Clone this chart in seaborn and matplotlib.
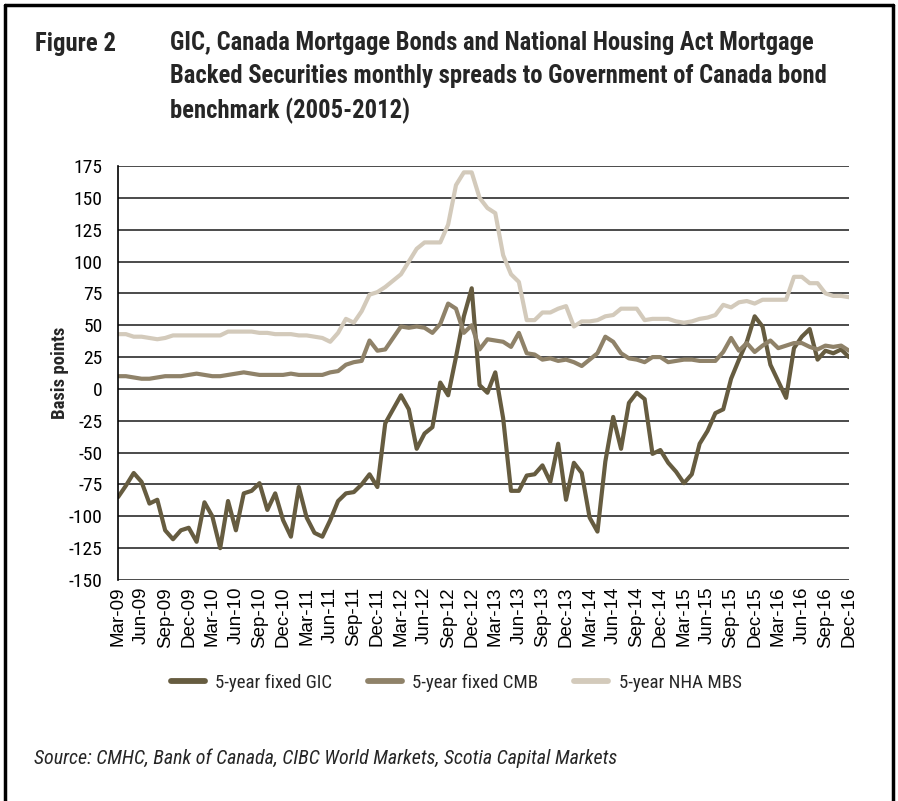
import matplotlib
matplotlib.use("Agg")
import matplotlib.pyplot as plt
from matplotlib.lines import Line2D
from matplotlib import font_manager
import numpy as np
import pandas as pd
import seaborn as sns

# Monthly observations, Mar-2009 to Dec-2016 (basis points)
months = pd.date_range("2009-03-01", periods=94, freq="MS")
month_labels = [m.strftime("%b-%y") for m in months]

gic = [-85, -76, -66, -73, -90, -87, -111, -118, -111, -109,
       -120, -89, -100, -125, -88, -111, -82, -80, -74, -95,
       -82, -103, -116, -77, -101, -113, -116, -103, -88, -82,
       -81, -75, -67, -77, -27, -16, -5, -16, -47, -35,
       -30, 5, -5, 25, 57, 79, 3, -3, 13, -23,
       -80, -80, -68, -67, -60, -73, -43, -87, -58, -66,
       -101, -112, -57, -22, -47, -11, -3, -8, -51, -48,
       -58, -65, -74, -67, -43, -33, -19, -16, 8, 23,
       37, 57, 49, 19, 6, -7, 32, 41, 47, 23,
       30, 28, 31, 25]

cmb = [10, 10, 9, 8, 8, 9, 10, 10, 10, 11,
       12, 11, 10, 10, 11, 12, 13, 12, 11, 11,
       11, 11, 12, 11, 11, 11, 11, 13, 14, 19,
       21, 22, 38, 30, 31, 40, 49, 48, 49, 48,
       44, 51, 67, 63, 44, 50, 31, 39, 38, 37,
       33, 44, 28, 27, 23, 24, 22, 23, 21, 18,
       23, 28, 41, 37, 28, 24, 23, 21, 25, 25,
       21, 22, 23, 23, 22, 22, 22, 29, 40, 30,
       36, 29, 34, 38, 32, 34, 36, 36, 33, 31,
       34, 33, 34, 30]

nha = [43, 43, 41, 41, 40, 39, 40, 42, 42, 42,
       42, 42, 42, 42, 45, 45, 45, 45, 44, 44,
       43, 43, 43, 42, 42, 41, 40, 37, 44, 55,
       52, 61, 74, 76, 80, 85, 90, 100, 110, 115,
       115, 115, 129, 160, 170, 170, 150, 142, 138, 105,
       90, 84, 54, 54, 60, 60, 63, 65, 49, 53,
       53, 54, 57, 58, 63, 63, 63, 54, 55, 55,
       55, 53, 52, 53, 55, 56, 58, 66, 64, 68,
       69, 67, 70, 70, 70, 70, 88, 88, 83, 83,
       75, 73, 73, 72]

series_names = ["5-year fixed GIC", "5-year fixed CMB", "5-year NHA MBS"]
series_colors = ["#665c40", "#8f8269", "#d3cabb"]
y_ticks = list(range(-150, 176, 25))
x_tick_step = 3

df = pd.DataFrame({
    "month": np.tile(np.arange(len(months)), 3),
    "value": gic + cmb + nha,
    "series": np.repeat(series_names, len(months)),
})

sns.set_style("white")

# Prefer a condensed face for headings, axis text and notes
fonts = font_manager.fontManager.ttflist
names = {f.name for f in fonts}
cond_family, cond_stretch, scale = "Liberation Sans", "normal", 0.86
for cand in ["Roboto Condensed", "Liberation Sans Narrow", "Open Sans Condensed", "Arial Narrow"]:
    if cand in names:
        cond_family, cond_stretch, scale = cand, "normal", 1.0
        break
else:
    if any(f.name == "DejaVu Sans" and "condensed" in str(f.stretch) for f in fonts):
        cond_family, cond_stretch, scale = "DejaVu Sans", "condensed", 0.92
plt.rcParams["font.family"] = [cond_family, "DejaVu Sans"]
plt.rcParams["font.stretch"] = cond_stretch

W, H = 898, 801
fig = plt.figure(figsize=(W / 100, H / 100), dpi=100)
ax = fig.add_axes([118 / W, 1 - 580 / H, (849 - 118) / W, (580 - 166) / H])

sns.lineplot(data=df, x="month", y="value", hue="series", hue_order=series_names,
             palette=series_colors, linewidth=3.0, ax=ax)

ax.set_xlim(0, len(months) - 1)
ax.set_ylim(-150, 175)
ax.set_yticks(y_ticks)
ax.set_yticklabels([str(v) for v in y_ticks], fontsize=14 * scale)
tick_idx = list(range(0, len(months), x_tick_step))
ax.set_xticks(tick_idx)
ax.set_xticklabels([month_labels[i] for i in tick_idx], rotation=90,
                   fontsize=13.5, family=["Liberation Sans", "DejaVu Sans"],
                   fontstretch="normal")
ax.tick_params(axis="y", length=0, pad=11, colors="black")
ax.tick_params(axis="x", length=0, pad=5, colors="black")

ax.grid(axis="y", color="#1a1a1a", linewidth=1.1)
ax.grid(axis="x", visible=False)
ax.set_axisbelow(True)
for side in ["top", "right", "bottom"]:
    ax.spines[side].set_visible(False)
ax.spines["left"].set_color("black")
ax.spines["left"].set_linewidth(1.2)

ax.set_xlabel("")
ax.set_ylabel("Basis points", fontsize=13.5 * scale, fontweight="bold", labelpad=0)

sns.move_legend(ax, "center", bbox_to_anchor=(0.508, 1 - 683 / H),
                bbox_transform=fig.transFigure, ncol=3, frameon=False, title=None,
                fontsize=13.6 * scale, handlelength=1.8, handletextpad=0.55, columnspacing=1.9)
for line in ax.get_legend().get_lines():
    line.set_linewidth(4.2)

fig.text(35 / W, 1 - 44 / H, "Figure 2", fontsize=17.8 * scale, fontweight="bold",
         va="center", ha="left")
fig.text(170 / W, 1 - 31 / H,
         "GIC, Canada Mortgage Bonds and National Housing Act Mortgage\n"
         "Backed Securities monthly spreads to Government of Canada bond\n"
         "benchmark (2005-2012)",
         fontsize=17.7 * scale, fontweight="bold", va="top", ha="left", linespacing=1.48)
fig.text(34 / W, 1 - 758 / H,
         "Source: CMHC, Bank of Canada, CIBC World Markets, Scotia Capital Markets",
         fontsize=14.4 * scale, style="italic", va="center", ha="left")

# Outer frame around the figure
frame_kw = dict(color="black", linewidth=2.5, transform=fig.transFigure)
fig.add_artist(Line2D([5 / W, 5 / W], [0, 1 - 5 / H], **frame_kw))
fig.add_artist(Line2D([5 / W, 893 / W], [1 - 5 / H, 1 - 5 / H], **frame_kw))
fig.add_artist(Line2D([893 / W, 893 / W], [0, 1 - 5 / H], **frame_kw))

fig.savefig("out.png", dpi=100)
